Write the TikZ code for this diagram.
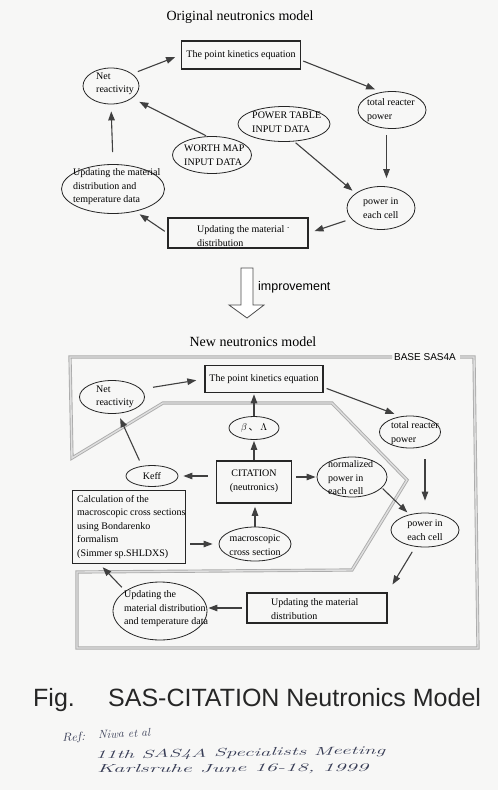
\documentclass[tikz,border=0pt]{standalone}
\usepackage{fontspec}
\setmainfont{Liberation Serif}
\setsansfont{Liberation Sans}
\newfontfamily\cjk{Noto Sans CJK JP}
\usetikzlibrary{shapes.geometric,arrows.meta,calc}
\newcommand{\handf}{\fontfamily{lmr}\selectfont\itshape}
\definecolor{ink}{RGB}{55,60,85}
\definecolor{paper}{RGB}{247,247,246}
\begin{document}
\begin{tikzpicture}[x=1pt,y=-1pt,
  font=\fontsize{10}{13.5}\selectfont,
  ell/.style={ellipse, draw=black!85, line width=0.8pt, inner sep=0pt},
  bx/.style={rectangle, draw=black!85, line width=1.6pt, inner sep=0pt},
  txt/.style={align=left, inner sep=0pt},
  arr/.style={draw=black!75, line width=1.1pt, -{Triangle[length=9pt,width=6.5pt]}},
  band/.style={draw=gray!65, double=gray!25, double distance=1.4pt, line width=0.9pt},
  title/.style={font=\fontsize{14}{16}\selectfont},
  hand/.style={font=\fontsize{11.5}{13}\handf, text=ink, inner sep=0pt, anchor=west}
]
\fill[paper] (0,0) rectangle (498,790);
\useasboundingbox (0,0) rectangle (498,790);

% ---------- Original model ----------
\node[title] (t1) at (240,17) {Original neutronics model};

\node[bx, minimum width=119, minimum height=28] (pk1) at (241,55) {The point kinetics equation};
\node[ell, minimum width=56, minimum height=36] (nr1) at (111,86) {};
\node[txt, anchor=west] (nr1t) at (96,84) {Net\\reactivity};
\node[ell, minimum width=68, minimum height=37] (tp1) at (392,110) {};
\node[txt, anchor=west] (tp1t) at (367,110) {total reacter\\power};
\node[ell, minimum width=92, minimum height=35] (ptab) at (284,124) {};
\node[txt, anchor=west] (ptabt) at (252,122) {POWER TABLE\\INPUT DATA};
\node[ell, minimum width=79, minimum height=37] (wm) at (212,155) {};
\node[txt, anchor=west] (wmt) at (184,155) {WORTH MAP\\INPUT DATA};
\node[ell, minimum width=103, minimum height=49] (ud1) at (113,189) {};
\node[txt, anchor=west] (ud1t) at (73,187) {Updating the material\\distribution and\\temperature data};
\node[ell, minimum width=68, minimum height=43] (pc1) at (381,208) {};
\node[txt, anchor=west] (pc1t) at (363,208) {power in\\each cell};
\node[bx, minimum width=140, minimum height=30] (um1) at (238,233) {};
\node[txt, anchor=west] (um1t) at (197,236) {Updating the material \raisebox{2pt}{$\cdot$}\\distribution};

\draw[arr, shorten <=6pt, shorten >=6pt] (nr1.30) -- (pk1.west);
\draw[arr, shorten <=2pt, shorten >=7pt] (pk1.-5) -- (tp1.120);
\coordinate (m1) at ($(tp1.south)!.5!(pc1.north)$);
\draw[arr, shorten <=6pt, shorten >=8pt] (m1 |- tp1.south) -- (m1 |- pc1.north);
\draw[arr, shorten <=2pt, shorten >=4pt] (ptab.-60) -- (pc1.150);
\draw[arr, shorten <=6pt, shorten >=6pt] (pc1.200) -- (um1.east);
\draw[arr, shorten <=3pt, shorten >=5pt] (um1.west) -- (ud1.-45);
\draw[arr, shorten <=12pt, shorten >=7pt] (ud1.north) -- (nr1.south);
\draw[arr, shorten <=1pt, shorten >=8pt] (wm.105) -- (nr1.-30);

% ---------- improvement arrow ----------
\draw[draw=black!70, fill=white, line width=0.8pt] (241,268) -- (253,268) -- (253,305) -- (264,305) -- (247,318) -- (229,305) -- (241,305) -- cycle;
\node[font=\sffamily\fontsize{12.5}{14}\selectfont, anchor=west, inner sep=0pt] (imp) at (258,287) {improvement};

% ---------- New model ----------
\node[title] (t2) at (253,342) {New neutronics model};

\draw[band] (392,357) -- (70,357) -- (72,458) -- (163,403) -- (332,403) -- (407,480) -- (352,570) -- (77,572) -- (77,648) -- (478,648) -- (474,357) -- (460,357);
\node[font=\sffamily\fontsize{10}{12}\selectfont, inner sep=0pt] (base) at (425,357) {BASE SAS4A};

\node[bx, minimum width=118, minimum height=27] (pk2) at (264,379) {The point kinetics equation};
\node[ell, minimum width=65, minimum height=33] (nr2) at (112,397) {};
\node[txt, anchor=west] (nr2t) at (96,397) {Net\\reactivity};
\node[ell, minimum width=50, minimum height=23] (bl) at (254,428) {};
\node[inner sep=0pt] (blt) at (254,428) {$\beta$\,{\cjk 、}\,$\Lambda$};
\node[ell, minimum width=61, minimum height=32] (tp2) at (410,432) {};
\node[txt, anchor=west] (tp2t) at (391,433) {total reacter\\power};
\node[ell, minimum width=52, minimum height=21] (keff) at (152,476) {};
\node[inner sep=0pt] (kefft) at (152,476) {Keff};
\node[bx, minimum width=75, minimum height=42] (cit) at (254,482) {};
\node[txt, align=center] (citt) at (254,481) {CITATION\\(neutronics)};
\node[ell, minimum width=70, minimum height=40] (norm) at (352,477) {};
\node[txt, anchor=west] (normt) at (328,478) {normalized\\power in\\each cell};
\node[bx, minimum width=113, minimum height=73] (calc) at (129,527) {};
\node[txt, anchor=west] (calct) at (77,527) {Calculation of the\\macroscopic cross sections\\using Bondarenko\\formalism\\(Simmer sp.SHLDXS)};
\node[ell, minimum width=72, minimum height=34] (mac) at (255,544) {};
\node[txt, align=center] (mact) at (255,545) {macroscopic\\cross section};
\node[ell, minimum width=68, minimum height=34] (pc2) at (425,530) {};
\node[txt, align=center] (pc2t) at (425,530) {power in\\each cell};
\node[ell, minimum width=94, minimum height=58] (ud2) at (160,611) {};
\node[txt, anchor=west] (ud2t) at (124,609) {Updating the\\material distribution\\and temperature data};
\node[bx, minimum width=140, minimum height=30] (um2) at (317,608) {};
\node[txt, anchor=west] (um2t) at (271,609) {Updating the material\\distribution};

\draw[arr, shorten <=12pt, shorten >=8pt] (nr2.15) -- (pk2.west);
\draw[arr, shorten <=3pt, shorten >=7pt] (pk2.-8) -- (tp2.120);
\draw[arr, shorten >=1pt] (bl.north) -- (bl.north |- pk2.south);
\draw[arr, shorten >=1pt] (cit.north) -- (bl.south);
\draw[arr, shorten <=6pt, shorten >=5pt] (keff.135) -- (nr2.-70);
\draw[arr, shorten <=8pt, shorten >=5pt] (cit.west |- keff.east) -- (keff.east);
\draw[arr, shorten <=4pt, shorten >=1pt] (cit.east |- norm.west) -- (norm.west);
\draw[arr, shorten <=1pt, shorten >=3pt] (norm.-20) -- (pc2.135);
\draw[arr, shorten <=11pt, shorten >=12pt] (tp2.south -| pc2.north) -- (pc2.north);
\draw[arr, shorten >=3pt] (mac.north) -- (mac.north |- cit.south);
\draw[arr, shorten <=4pt, shorten >=6pt] (calc.east |- mac.west) -- (mac.west);
\draw[arr, shorten <=6pt, shorten >=9pt] (pc2.-120) -- (um2.north east);
\draw[arr, shorten <=4pt, shorten >=1pt] (um2.west) -- (um2.west -| ud2.east);
\draw[arr, shorten <=5pt, shorten >=4pt] (ud2.150) -- (calc.-128);

% ---------- caption ----------
\node[font=\sffamily\fontsize{25}{28}\selectfont, anchor=base west, inner sep=0pt, text=black!85] (figl) at (33,706) {Fig.};
\node[font=\sffamily\fontsize{25}{28}\selectfont, anchor=base west, inner sep=0pt, text=black!85] (figt) at (108,706) {SAS-CITATION Neutronics Model};

\node[hand, rotate=4] (refl) at (62,739) {\resizebox{23pt}{\height}{Ref:}};
\node[hand, rotate=3] (r1) at (98,735) {\resizebox{52pt}{\height}{Niwa et al}};
\node[hand, rotate=1] (r2) at (95,756) {\resizebox{290pt}{\height}{11th SAS4A Specialists Meeting}};
\node[hand, rotate=0.4] (r3) at (97,770) {\resizebox{271pt}{\height}{Karlsruhe June 16-18, 1999}};
\end{tikzpicture}
\end{document}
